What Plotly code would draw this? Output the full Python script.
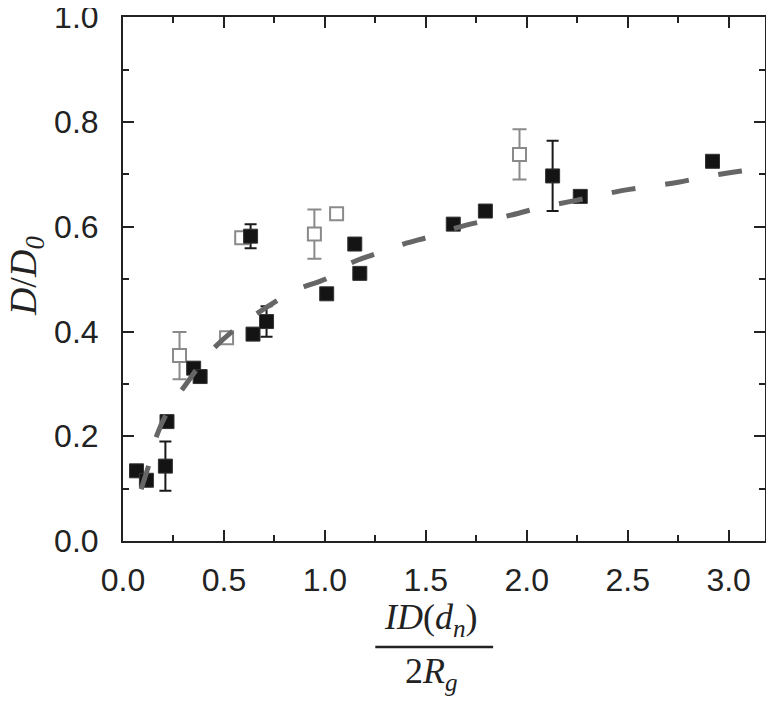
import plotly.graph_objects as go

# Filled squares (black)
filled_x = [0.067, 0.116, 0.21, 0.218, 0.35, 0.382, 0.644, 0.711, 1.009, 0.632, 1.148, 1.173, 1.636, 1.795, 2.128, 2.265, 2.92]
filled_y = [0.134, 0.116, 0.143, 0.228, 0.330, 0.314, 0.395, 0.419, 0.472, 0.582, 0.567, 0.511, 0.605, 0.630, 0.697, 0.658, 0.725]
filled_err = [0, 0, 0.047, 0, 0, 0, 0, 0.029, 0, 0.023, 0, 0, 0, 0, 0.067, 0, 0]

# Open squares (gray)
open_x = [0.28, 0.513, 0.588, 0.948, 1.058, 1.964]
open_y = [0.354, 0.388, 0.579, 0.586, 0.625, 0.738]
open_err = [0.045, 0, 0, 0.047, 0, 0.048]

# Dashed fit curve
fit_x = [0.09, 0.13, 0.17, 0.23, 0.33, 0.43, 0.57, 0.71, 0.85, 1.02, 1.12, 1.25, 1.39, 1.52, 1.66,
         1.79, 1.93, 2.06, 2.2, 2.34, 2.47, 2.61, 2.75, 2.88, 3.02, 3.15, 3.18]
fit_y = [0.099, 0.148, 0.204, 0.253, 0.309, 0.360, 0.409, 0.446, 0.478, 0.503, 0.529, 0.548, 0.567,
         0.581, 0.599, 0.611, 0.623, 0.636, 0.647, 0.658, 0.669, 0.677, 0.685, 0.695, 0.704, 0.711, 0.713]

x_ticks = [0.0, 0.5, 1.0, 1.5, 2.0, 2.5, 3.0]
y_ticks = [0.0, 0.2, 0.4, 0.6, 0.8, 1.0]

fig = go.Figure()

fig.add_trace(go.Scatter(
    x=open_x, y=open_y, mode="markers",
    marker=dict(symbol="square", size=13, color="white", line=dict(color="#8a8a8a", width=2)),
    error_y=dict(type="data", array=open_err, visible=True, color="#8a8a8a", thickness=2, width=7),
    showlegend=False,
))
fig.add_trace(go.Scatter(
    x=filled_x, y=filled_y, mode="markers",
    marker=dict(symbol="square", size=14, color="#141414", line=dict(color="#333", width=1)),
    error_y=dict(type="data", array=filled_err, visible=True, color="#1a1a1a", thickness=2, width=6),
    showlegend=False,
))
fig.add_trace(go.Scatter(
    x=fit_x, y=fit_y, mode="lines",
    line=dict(color="#666666", width=5, dash="24px,30px", shape="spline"),
    showlegend=False,
))

axis_common = dict(
    showline=True, linecolor="#222", linewidth=2, mirror="ticks",
    ticks="inside", ticklen=11, tickwidth=2, tickcolor="#222",
    showgrid=False, zeroline=False, automargin=False, ticklabeloverflow="allow",
    tickfont=dict(family="Liberation Sans, Arial", size=32, color="#222"),
)

fig.update_xaxes(
    range=[0, 3.18], tickvals=x_ticks, ticktext=[f"{v:.1f}" for v in x_ticks],
    minor=dict(ticks="inside", ticklen=6, tickwidth=2, tickcolor="#222", dtick=0.25, tick0=0, showgrid=False),
    ticklabelstandoff=10,
    **axis_common,
)
fig.update_yaxes(
    range=[0, 1.0005], tickvals=y_ticks, ticktext=[f"{v:.1f}" for v in y_ticks],
    minor=dict(ticks="inside", ticklen=6, tickwidth=2, tickcolor="#222", dtick=0.1, tick0=0, showgrid=False),
    ticklabelstandoff=16,
    **axis_common,
)

serif = dict(family="Liberation Serif, Times New Roman", size=36, color="#222")

fig.update_layout(
    width=766, height=699,
    margin=dict(l=115, r=9, t=9, b=166),
    plot_bgcolor="white", paper_bgcolor="white",
    annotations=[
        dict(text="<i>D</i>/<i>D</i><sub><i>0</i></sub>", xref="paper", yref="paper",
             x=-0.15, y=0.505, xanchor="center", yanchor="middle", textangle=-90,
             showarrow=False, font=dict(family="Liberation Serif, Times New Roman", size=38, color="#222")),
        dict(text="<i>ID</i>(<i>d</i><sub><i>n</i></sub>)", xref="paper", yref="paper",
             x=0.48, y=-0.15, xanchor="center", yanchor="middle", showarrow=False, font=serif),
        dict(text="2<i>R</i><sub><i>g</i></sub>", xref="paper", yref="paper",
             x=0.48, y=-0.252, xanchor="center", yanchor="middle", showarrow=False, font=serif),
    ],
    shapes=[
        dict(type="line", xref="paper", yref="paper", x0=0.393, x1=0.5765, y0=-0.2023, y1=-0.2023,
             line=dict(color="#222", width=2.5)),
    ],
)

fig.write_html("out.html")
